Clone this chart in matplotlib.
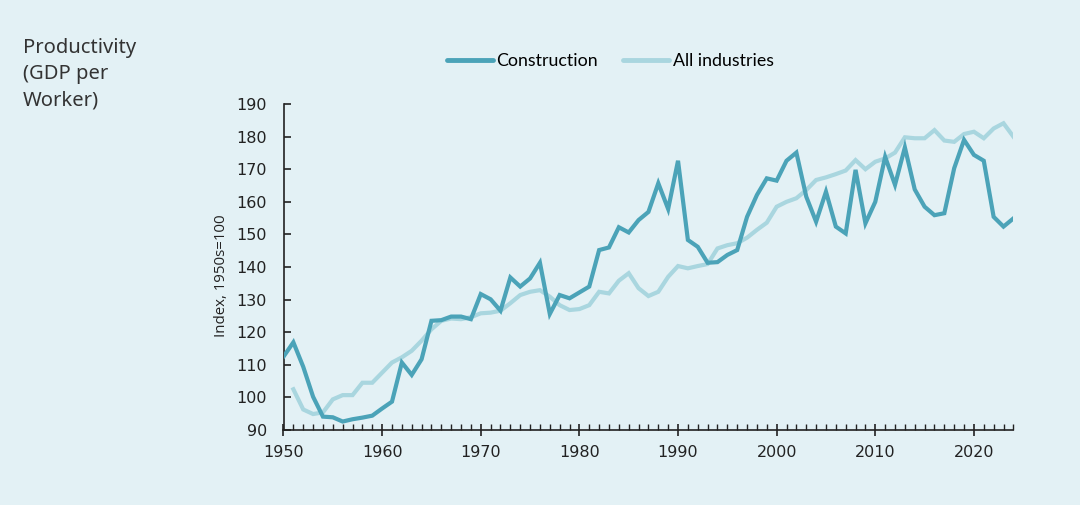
import numpy as np
import matplotlib.pyplot as plt
from matplotlib.ticker import MultipleLocator

# productivity index, 1950s = 100
years = list(range(1950, 2025))
construction = [112.5, 116.9, 109.4, 100.2, 94.1, 93.9, 92.6, 93.3, 93.8, 94.4,
                96.6, 98.7, 110.7, 106.9, 111.7, 123.5, 123.7, 124.8, 124.8, 124.0,
                131.7, 130.1, 126.6, 136.8, 134.0, 136.5, 141.3, 125.6, 131.4, 130.4,
                132.2, 134.0, 145.2, 146.0, 152.2, 150.6, 154.4, 156.9, 165.7, 157.8,
                172.6, 148.3, 146.2, 141.3, 141.5, 143.7, 145.2, 155.4, 162.1, 167.2,
                166.5, 172.6, 175.1, 161.6, 153.9, 163.1, 152.4, 150.3, 169.8, 153.4,
                160.0, 173.8, 165.2, 176.7, 163.8, 158.5, 155.9, 156.5, 170.3, 179.0,
                174.4, 172.6, 155.4, 152.4, 154.9]
all_years = list(range(1951, 2025))
all_industries = [102.5, 96.3, 94.9, 95.4, 99.4, 100.7, 100.7, 104.5, 104.5,
                  107.6, 110.7, 112.3, 114.3, 117.4, 120.9, 123.5, 124.2, 124.0, 124.6,
                  125.8, 126.0, 126.6, 128.9, 131.4, 132.4, 132.9, 130.9, 128.3, 126.8,
                  127.1, 128.3, 132.4, 131.9, 135.8, 138.1, 133.5, 131.1, 132.4, 137.0,
                  140.3, 139.6, 140.3, 140.9, 145.7, 146.7, 147.3, 149.0, 151.4, 153.6,
                  158.5, 160.0, 161.1, 163.6, 166.7, 167.5, 168.5, 169.6, 172.8, 170.0,
                  172.3, 173.3, 175.1, 179.8, 179.5, 179.5, 182.0, 178.8, 178.4, 180.8,
                  181.5, 179.5, 182.5, 184.1, 180.0]

bg = "#e3f1f5"
c_con = "#4ba3b8"
c_all = "#a9d6df"

fig = plt.figure(figsize=(10.8, 5.05), dpi=100, facecolor=bg)
ax = fig.add_axes([0.2625, 0.1485, 0.6758, 0.6455])
ax.set_facecolor(bg)

ax.plot(all_years, all_industries, color=c_all, lw=3, solid_joinstyle="miter", label="All industries", zorder=2)
ax.plot(years, construction, color=c_con, lw=3, solid_joinstyle="miter", label="Construction", zorder=3)

ax.set_xlim(1950, 2024)
ax.set_ylim(90, 190)
ax.xaxis.set_major_locator(MultipleLocator(10))
ax.xaxis.set_minor_locator(MultipleLocator(1))
ax.yaxis.set_major_locator(MultipleLocator(10))

for s in ["top", "right"]:
    ax.spines[s].set_visible(False)
for s in ["left", "bottom"]:
    ax.spines[s].set_linewidth(1.2)
    ax.spines[s].set_color("#222222")

tick_font = ["Liberation Sans Narrow", "DejaVu Sans"]
ax.tick_params(axis="x", which="major", direction="inout", length=8, width=1.2, pad=7, labelsize=11.5, colors="#222222")
ax.tick_params(axis="x", which="minor", direction="in", length=4, width=1, colors="#222222")
ax.tick_params(axis="y", which="major", direction="in", length=5, width=1.2, pad=12, labelsize=11.5, colors="#222222")
for lab in ax.get_xticklabels() + ax.get_yticklabels():
    lab.set_family(tick_font)

ax.set_ylabel("Index, 1950s=100", fontsize=10.8, family="Open Sans", color="#222222", labelpad=5)
ax.yaxis.label.set_y(0.472)

fig.text(0.021, 0.925, "Productivity\n(GDP per\nWorker)", fontsize=14.5, family="Noto Sans",
         color="#333333", va="top", ha="left", linespacing=1.42)

h, l = ax.get_legend_handles_labels()
leg = fig.legend(h[::-1], l[::-1], loc="center", bbox_to_anchor=(0.565, 0.879), ncol=2,
                 frameon=False, handlelength=2.6, handletextpad=0.2, columnspacing=1.4,
                 prop={"family": "Lato", "size": 12.8})
for line in leg.get_lines():
    line.set_solid_capstyle("round")
    line.set_linewidth(3.5)

fig.savefig("out.png", dpi=100, facecolor=bg)
